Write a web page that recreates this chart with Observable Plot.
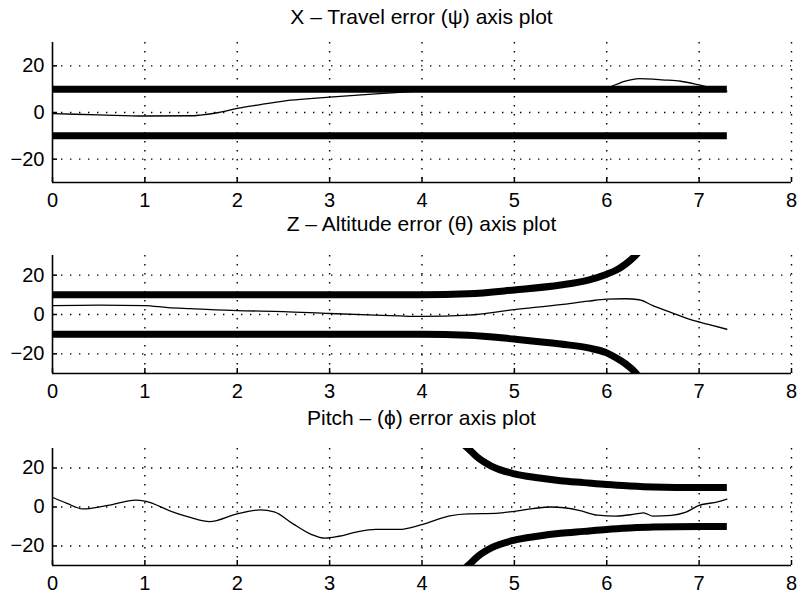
<!DOCTYPE html>
<html>
<head>
<meta charset="utf-8">
<script src="https://cdn.jsdelivr.net/npm/d3@7"></script>
<script src="https://cdn.jsdelivr.net/npm/@observablehq/plot@0.6"></script>
<style>
  html, body { margin: 0; padding: 0; background: white; }
  #root { position: relative; width: 801px; height: 599px; overflow: hidden; background: white;
          font-family: "Liberation Sans", Arial, Helvetica, sans-serif; color: black; }
  .title { position: absolute; left: 52px; width: 739px; text-align: center; font-size: 21px; line-height: 24px; }
  .panel { position: absolute; left: 0; }
</style>
</head>
<body>
<div id="root"></div>
<script>
// ---------- data ----------
const xTicks = [0, 1, 2, 3, 4, 5, 6, 7, 8];
const yTicks = [-20, 0, 20];
const titles = [
  "X \u2013 Travel error (\u03c8) axis plot",
  "Z \u2013 Altitude error (\u03b8) axis plot",
  "Pitch \u2013 (\u03d5) error axis plot"
];

// Panel 1: X - travel error
const p1ErrT = [0, 0.5, 1, 1.5, 1.6, 1.8, 2, 2.25, 2.5, 2.75, 3, 3.5, 4, 4.5, 5, 5.5, 6, 6.1, 6.2, 6.35, 6.5, 6.6, 6.8, 7, 7.1, 7.2, 7.3];
const p1ErrY = [-0.5, -1, -1.5, -1.4, -1.1, 0, 1.8, 3.4, 4.9, 5.8, 6.6, 8, 9.2, 9.8, 10, 10, 10.6, 12, 13.4, 14.5, 14.3, 14, 13.4, 11.8, 10.9, 9.9, 9.2];
const p1BoundT = [0, 7.3];
const p1Upper = [10, 10];
const p1Lower = [-10, -10];

// Panel 2: Z - altitude error
const p2ErrT = [0, 0.5, 1, 1.25, 1.5, 2, 2.5, 3, 3.5, 4, 4.5, 5, 5.5, 5.8, 6, 6.2, 6.35, 6.5, 6.7, 6.9, 7.1, 7.3];
const p2ErrY = [4.5, 4.8, 4.5, 3.5, 3, 2, 1.5, 0.5, -0.3, -1, -0.3, 2.5, 5, 6.8, 7.8, 8, 7.5, 4.5, 1, -2.5, -5, -7.5];
const p2BoundT = [0, 1, 2, 3, 4, 4.5, 5, 5.5, 5.8, 6, 6.1, 6.2, 6.3, 6.35];
const p2Upper = [10, 10, 10, 10, 10, 10.5, 12.5, 15, 17.5, 20.5, 22.5, 25.5, 29.5, 32];
const p2Lower = [-10, -10, -10, -10, -10, -10.5, -12.5, -15, -17, -19.5, -22, -25, -29, -32];

// Panel 3: pitch error
const p3ErrT = [0, 0.15, 0.33, 0.6, 0.9, 1.0, 1.3, 1.5, 1.7, 2.0, 2.25, 2.4, 2.6, 2.8, 2.95, 3.1, 3.3, 3.5, 3.75, 4.0, 4.3, 4.5, 4.8, 5.0, 5.2, 5.4, 5.7, 5.9, 6.1, 6.3, 6.4, 6.5, 6.7, 6.85, 7.0, 7.2, 7.3];
const p3ErrY = [5, 2, -1, 0.8, 3.5, 3, -2.5, -5.5, -7.5, -3.5, -1.5, -2.5, -8.5, -14, -16, -15, -12.7, -11.5, -11.5, -9, -4.5, -3.5, -3.3, -2.2, -0.8, 0, -1.7, -4.2, -4.7, -3.7, -3, -4.7, -4.3, -2.8, 0.8, 2.6, 4];
const p3BoundT = [4.45, 4.5, 4.6, 4.75, 5, 5.25, 5.5, 5.75, 6, 6.25, 6.5, 7, 7.3];
const p3Upper = [32, 30, 25.5, 21, 17, 15, 13.5, 12.5, 11.5, 10.8, 10.3, 10, 10];
const p3Lower = [-32, -30, -25.5, -21, -17, -15, -13.5, -12.5, -11.5, -10.8, -10.3, -10, -10];

// ---------- layout ----------
const layout = [
  {titleTop: 5,   svgTop: 30,  height: 180, marginTop: 12, marginBottom: 28},
  {titleTop: 212, svgTop: 240, height: 160, marginTop: 15, marginBottom: 27},
  {titleTop: 406, svgTop: 433, height: 166, marginTop: 15, marginBottom: 34}
];

const zip = (t, y) => t.map((v, i) => ({t: v, y: y[i]}));
const panels = [
  {err: zip(p1ErrT, p1ErrY), upper: zip(p1BoundT, p1Upper), lower: zip(p1BoundT, p1Lower)},
  {err: zip(p2ErrT, p2ErrY), upper: zip(p2BoundT, p2Upper), lower: zip(p2BoundT, p2Lower)},
  {err: zip(p3ErrT, p3ErrY), upper: zip(p3BoundT, p3Upper), lower: zip(p3BoundT, p3Lower)}
];

const root = document.getElementById("root");
const gridStyle = {stroke: "black", strokeOpacity: 1, strokeWidth: 1.4, strokeDasharray: "1.4,7.6"};

panels.forEach((p, i) => {
  const L = layout[i];
  const title = document.createElement("div");
  title.className = "title";
  title.style.top = L.titleTop + "px";
  title.textContent = titles[i];
  root.appendChild(title);

  const chart = Plot.plot({
    width: 801,
    height: L.height,
    marginLeft: 52,
    marginRight: 10,
    marginTop: L.marginTop,
    marginBottom: L.marginBottom,
    x: {domain: [0, 8], label: null},
    y: {domain: [-30, 30], label: null},
    style: {fontFamily: "Liberation Sans, Arial, Helvetica, sans-serif", fontSize: "20px", color: "black", background: "white", overflow: "visible"},
    marks: [
      Plot.gridX(xTicks.slice(1), gridStyle),
      Plot.gridY(yTicks, gridStyle),
      Plot.line(p.upper, {x: "t", y: "y", stroke: "black", strokeWidth: 7, strokeLinecap: "butt", curve: "monotone-x", clip: "frame"}),
      Plot.line(p.lower, {x: "t", y: "y", stroke: "black", strokeWidth: 7, strokeLinecap: "butt", curve: "monotone-x", clip: "frame"}),
      Plot.line(p.err, {x: "t", y: "y", stroke: "black", strokeWidth: 1.3, curve: "monotone-x"}),
      Plot.axisX(xTicks, {tickSize: 0, tickPadding: 10, fontSize: 20, label: null, tickFormat: d => String(d)}),
      Plot.axisX(xTicks, {tickSize: 5, dy: -5, strokeWidth: 1.5, fill: "none", label: null}),
      Plot.axisY(yTicks, {tickSize: 0, tickPadding: 8, fontSize: 20, label: null}),
      Plot.axisY(yTicks, {tickSize: 5, dx: 5, strokeWidth: 1.5, fill: "none", label: null}),
      Plot.ruleY([-30], {stroke: "black", strokeWidth: 1.6}),
      Plot.ruleX([0], {stroke: "black", strokeWidth: 1.6})
    ]
  });
  chart.classList.add("panel");
  chart.style.top = L.svgTop + "px";
  root.appendChild(chart);
});
</script>
</body>
</html>
